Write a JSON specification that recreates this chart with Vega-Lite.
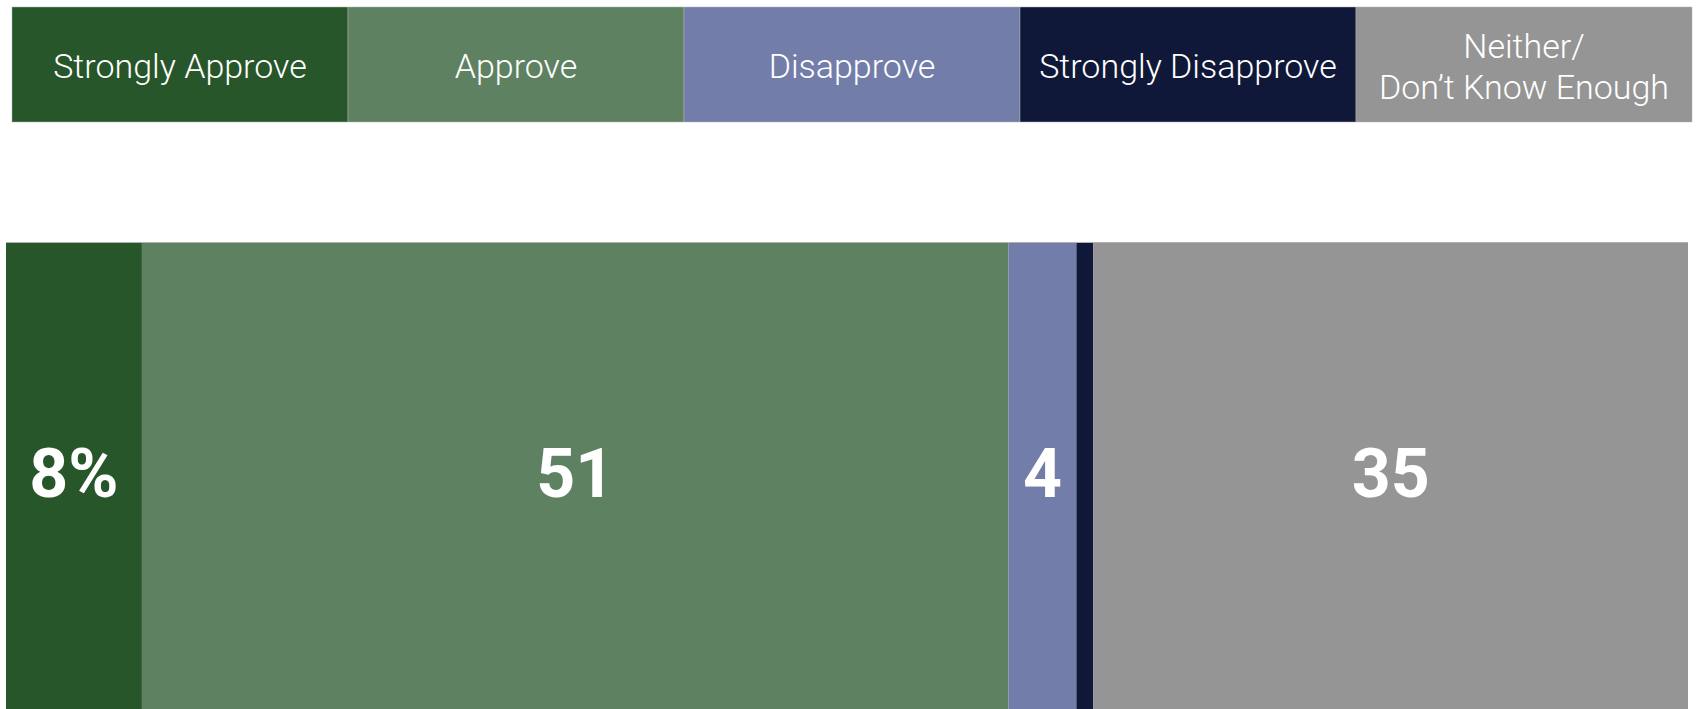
{
  "$schema": "https://vega.github.io/schema/vega-lite/v6.json",
  "padding": {"left": 5, "top": 6, "right": 0, "bottom": 0},
  "background": "white",
  "config": {"view": {"stroke": null}, "font": "Roboto"},
  "spacing": 119,
  "datasets": {
    "rows": [
      {"category": "Strongly Approve", "order": 1, "value": 8, "label": "8%", "legend": ["Strongly Approve"], "lines": 1, "row": "all"},
      {"category": "Approve", "order": 2, "value": 51, "label": "51", "legend": ["Approve"], "lines": 1, "row": "all"},
      {"category": "Disapprove", "order": 3, "value": 4, "label": "4", "legend": ["Disapprove"], "lines": 1, "row": "all"},
      {"category": "Strongly Disapprove", "order": 4, "value": 1, "label": "", "legend": ["Strongly Disapprove"], "lines": 1, "row": "all"},
      {"category": "Neither/Don't Know Enough", "order": 5, "value": 35, "label": "35", "legend": ["Neither/", "Don’t Know Enough"], "lines": 2, "row": "all"}
    ]
  },
  "vconcat": [
    {
      "width": 1686,
      "height": 115,
      "data": {"name": "rows"},
      "encoding": {
        "x": {"field": "category", "type": "nominal", "sort": {"field": "order"},
              "scale": {"range": [6, 1686], "paddingInner": 0, "paddingOuter": 0}, "axis": null}
      },
      "layer": [
        {
          "mark": {"type": "bar", "stroke": "#b0b0b0", "strokeWidth": 0.5},
          "encoding": {
            "color": {"field": "category", "type": "nominal", "legend": null,
              "scale": {"domain": ["Strongly Approve", "Approve", "Disapprove", "Strongly Disapprove", "Neither/Don't Know Enough"],
                        "range": ["#27562a", "#5e8261", "#737da9", "#101839", "#959595"]}}
          }
        },
        {
          "transform": [{"filter": "datum.lines == 1"}],
          "mark": {"type": "text", "color": "#ffffff", "fontSize": 34, "fontWeight": 300, "baseline": "middle"},
          "encoding": {"text": {"field": "legend"}, "y": {"value": 61}}
        },
        {
          "transform": [{"filter": "datum.lines == 2"}],
          "mark": {"type": "text", "color": "#ffffff", "fontSize": 34, "fontWeight": 300, "baseline": "middle", "lineHeight": 41},
          "encoding": {"text": {"field": "legend"}, "y": {"value": 41}}
        }
      ]
    },
    {
      "width": 1682,
      "height": 470,
      "data": {"name": "rows"},
      "encoding": {
        "x": {"field": "value", "type": "quantitative", "stack": "zero",
              "scale": {"domain": [0, 99], "nice": false}, "axis": null},
        "y": {"field": "row", "type": "nominal", "axis": null,
              "scale": {"paddingInner": 0, "paddingOuter": 0}},
        "order": {"field": "order"}
      },
      "layer": [
        {
          "mark": {"type": "bar"},
          "encoding": {
            "color": {"field": "category", "type": "nominal", "legend": null,
              "scale": {"domain": ["Strongly Approve", "Approve", "Disapprove", "Strongly Disapprove", "Neither/Don't Know Enough"],
                        "range": ["#27562a", "#5e8261", "#7886b0", "#0a1435", "#959595"]}}
          }
        },
        {
          "mark": {"type": "rule", "color": "#b0b0b0", "strokeWidth": 1},
          "encoding": {"x": {"value": 0}, "x2": {"value": 1682}, "y": {"value": 0.5}, "order": null}
        },
        {
          "mark": {"type": "text", "color": "#ffffff", "fontSize": 68, "fontWeight": "bold", "baseline": "middle", "align": "center", "dy": 0},
          "encoding": {
            "x": {"field": "value", "type": "quantitative", "stack": "zero", "bandPosition": 0.5},
            "text": {"field": "label"}
          }
        }
      ]
    }
  ]
}
